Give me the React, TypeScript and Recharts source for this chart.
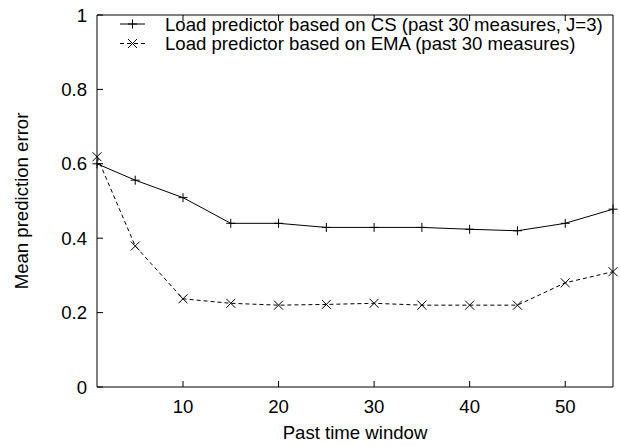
import React from 'react';
import { LineChart, Line, XAxis, YAxis, Legend } from 'recharts';

const pastWindow = [1, 5, 10, 15, 20, 25, 30, 35, 40, 45, 50, 55];
const csError = [0.6, 0.556, 0.509, 0.44, 0.44, 0.429, 0.429, 0.429, 0.424, 0.42, 0.44, 0.478];
const emaError = [0.619, 0.379, 0.237, 0.225, 0.22, 0.222, 0.225, 0.22, 0.22, 0.22, 0.28, 0.31];
const xTicks = [10, 20, 30, 40, 50];
const yTicks = [0, 0.2, 0.4, 0.6, 0.8, 1];
const seriesNames = [
  'Load predictor based on CS (past 30 measures, J=3)',
  'Load predictor based on EMA (past 30 measures)',
];

const data = pastWindow.map((x, i) => ({ x, cs: csError[i], ema: emaError[i] }));

const FONT = '"Liberation Sans", Arial, Helvetica, sans-serif';
const FS = 18.6;
const TL = 6;
const M = 4.5;

const Plus = ({ cx, cy }: any) => (
  <g stroke="#000" strokeWidth={1}>
    <line x1={cx - M} x2={cx + M} y1={cy} y2={cy} />
    <line x1={cx} x2={cx} y1={cy - M} y2={cy + M} />
  </g>
);
const Cross = ({ cx, cy }: any) => (
  <g stroke="#000" strokeWidth={1}>
    <line x1={cx - M} x2={cx + M} y1={cy - M} y2={cy + M} />
    <line x1={cx - M} x2={cx + M} y1={cy + M} y2={cy - M} />
  </g>
);

const BottomTick = ({ x, y, payload }: any) => (
  <g>
    <line x1={x} x2={x} y1={y} y2={y - TL} stroke="#000" />
    <text x={x} y={y + 26} textAnchor="middle" fontSize={FS} fontFamily={FONT} fill="#000">
      {payload.value}
    </text>
  </g>
);
const TopTick = ({ x, y }: any) => (
  <line x1={x} x2={x} y1={y} y2={y + TL} stroke="#000" />
);
const LeftTick = ({ x, y, payload }: any) => (
  <g>
    <line x1={x} x2={x + TL} y1={y} y2={y} stroke="#000" />
    <text x={x - 10} y={y} dy="0.35em" textAnchor="end" fontSize={FS} fontFamily={FONT} fill="#000">
      {payload.value}
    </text>
  </g>
);
const RightTick = ({ x, y }: any) => (
  <line x1={x} x2={x - TL} y1={y} y2={y} stroke="#000" />
);

const LegendBox = () => (
  <svg width={500} height={44} style={{ display: 'block' }}>
    {seriesNames.map((name, i) => {
      const cy = 10 + i * 19.5;
      return (
        <g key={name}>
          <line x1={2} x2={27} y1={cy} y2={cy} stroke="#000" strokeDasharray={i === 1 ? '4 3' : undefined} />
          {i === 0 ? <Plus cx={14.5} cy={cy} /> : <Cross cx={14.5} cy={cy} />}
          <text x={47} y={cy} dy="0.35em" fontSize={FS} fontFamily={FONT} fill="#000">
            {name}
          </text>
        </g>
      );
    })}
  </svg>
);

export default function App() {
  return (
    <div style={{ position: 'absolute', left: 0, top: 0, width: 620, height: 446, background: '#fff' }}>
      <LineChart width={620} height={446} data={data} margin={{ top: 0, right: 0, bottom: 0, left: 0 }}>
        <XAxis
          xAxisId="b"
          dataKey="x"
          type="number"
          domain={[1, 55]}
          ticks={xTicks}
          orientation="bottom"
          height={59}
          tickSize={0}
          tickMargin={0}
          tickLine={false}
          axisLine={{ stroke: '#000' }}
          tick={<BottomTick />}
          interval={0}
          label={(p: any) => {
            const vb = p.viewBox;
            return (
              <text x={vb.x + vb.width / 2} y={vb.y + 52} textAnchor="middle" fontSize={FS} fontFamily={FONT} fill="#000">
                Past time window
              </text>
            );
          }}
        />
        <XAxis
          xAxisId="t"
          dataKey="x"
          type="number"
          domain={[1, 55]}
          ticks={xTicks}
          orientation="top"
          height={15}
          tickSize={0}
          tickMargin={0}
          tickLine={false}
          axisLine={{ stroke: '#000' }}
          tick={<TopTick />}
          interval={0}
        />
        <YAxis
          yAxisId="l"
          type="number"
          domain={[0, 1]}
          ticks={yTicks}
          orientation="left"
          width={97}
          tickSize={0}
          tickMargin={0}
          tickLine={false}
          axisLine={{ stroke: '#000' }}
          tick={<LeftTick />}
          interval={0}
          label={(p: any) => {
            const vb = p.viewBox;
            const cx = vb.x + 21;
            const cy = vb.y + vb.height / 2;
            return (
              <text x={cx} y={cy} dy="0.35em" transform={`rotate(-90 ${cx} ${cy})`} textAnchor="middle" fontSize={FS} fontFamily={FONT} fill="#000">
                Mean prediction error
              </text>
            );
          }}
        />
        <YAxis
          yAxisId="r"
          type="number"
          domain={[0, 1]}
          ticks={yTicks}
          orientation="right"
          width={7}
          tickSize={0}
          tickMargin={0}
          tickLine={false}
          axisLine={{ stroke: '#000' }}
          tick={<RightTick />}
          interval={0}
        />
        <Legend
          layout="vertical"
          align="center"
          verticalAlign="middle"
          content={() => <LegendBox />}
          wrapperStyle={{ position: 'absolute', left: 118, top: 14, width: 500, height: 44 }}
        />
        <Line
          xAxisId="b"
          yAxisId="l"
          dataKey="cs"
          name={seriesNames[0]}
          stroke="#000"
          strokeWidth={1}
          isAnimationActive={false}
          dot={(p: any) => <Plus key={`cs-${p.index}`} cx={p.cx} cy={p.cy} />}
          activeDot={false}
        />
        <Line
          xAxisId="b"
          yAxisId="l"
          dataKey="ema"
          name={seriesNames[1]}
          stroke="#000"
          strokeWidth={1}
          strokeDasharray="4 3"
          isAnimationActive={false}
          dot={(p: any) => <Cross key={`ema-${p.index}`} cx={p.cx} cy={p.cy} />}
          activeDot={false}
        />
      </LineChart>
    </div>
  );
}
